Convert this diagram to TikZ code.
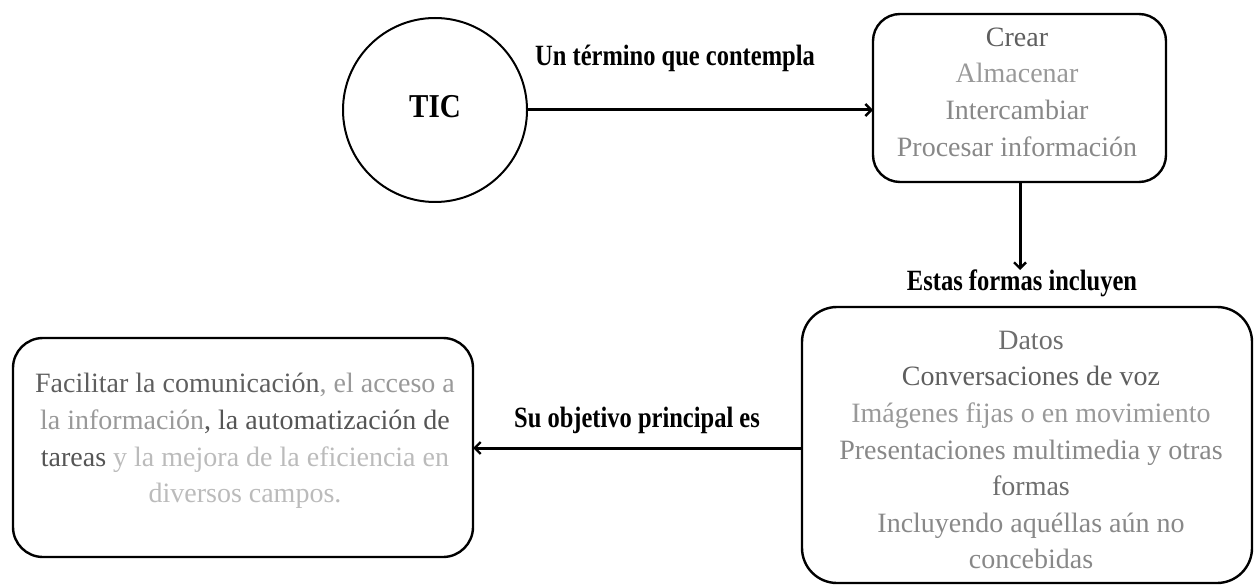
\documentclass[tikz,border=0pt]{standalone}
\usepackage{fontspec}
\setmainfont{Liberation Serif}
\usetikzlibrary{arrows.meta}
\definecolor{gA}{HTML}{5E5E5E}
\definecolor{gB}{HTML}{999999}
\definecolor{gC}{HTML}{888888}
\definecolor{gD}{HTML}{6E6E6E}
\definecolor{gE}{HTML}{BBBBBB}
\definecolor{gF}{HTML}{555555}
\begin{document}
\begin{tikzpicture}[x=1pt,y=-1pt,
  boxst/.style={draw=black,line width=2.4pt,rectangle,outer sep=0pt,inner sep=0pt},
  bodytext/.style={align=center,inner sep=0pt,font=\fontsize{28}{36.6}\selectfont},
  lbl/.style={inner sep=2pt,font=\bfseries\fontsize{24.5}{30}\selectfont},
  arr/.style={line width=3pt,-{Straight Barb[length=6pt,width=12pt,line width=2.4pt]}}]
\useasboundingbox (0,0) rectangle (1255,585);
% nodes
\node[draw=black,line width=2pt,circle,minimum size=184pt,inner sep=0pt,outer sep=0pt] (tic) at (435,110) {};
\node[inner sep=0pt] (tictxt) at (435,107) {\scalebox{1}[1.15]{\bfseries\fontsize{29}{32}\selectfont TIC}};
\node[boxst,rounded corners=27pt,minimum width=293pt,minimum height=168pt] (b1) at (1019.5,98) {};
\node[bodytext] (t1) at (1017,92) {{\color{gA}Crear}\\{\color{gB}Almacenar}\\{\color{gC}Intercambiar}\\{\color{gC}Procesar información}};
\node[boxst,rounded corners=35pt,minimum width=450pt,minimum height=276pt] (b2) at (1027,445) {};
\node[bodytext] (t2) at (1031,450) {{\color{gD}Datos}\\{\color{gA}Conversaciones de voz}\\{\color{gB}Imágenes fijas o en movimiento}\\{\color{gC}Presentaciones multimedia y otras}\\{\color{gD}formas}\\{\color{gC}Incluyendo aquéllas aún no}\\{\color{gC}concebidas}};
\node[boxst,rounded corners=30pt,minimum width=460pt,minimum height=219pt] (b3) at (243,447.5) {};
\node[bodytext] (t3) at (245,441) {{\color{gA}Facilitar la comunicación}{\color{gB}, el acceso a}\\{\color{gB}la información}{\color{gF}, la automatización de}\\{\color{gF}tareas}\ {\color{gE}y la mejora de la eficiencia en}\\{\color{gE}diversos campos.}};
% labels
\node[lbl] (l1) at (675,58) {\scalebox{1}[1.2]{Un término que contempla}};
\node[lbl] (l2) at (1022,283) {\scalebox{1}[1.2]{Estas formas incluyen}};
\node[lbl] (l3) at (637,420) {\scalebox{1}[1.2]{Su objetivo principal es}};
% connectors
\coordinate (y3) at (0,448);
\coordinate (v2) at (1020,270);
\draw[arr] (tic.east) -- (tic.east -| b1.west);
\draw[arr] (b1.south -| v2) -- (v2);
\draw[arr] (b2.west |- y3) -- (b3.east |- y3);
\end{tikzpicture}
\end{document}
